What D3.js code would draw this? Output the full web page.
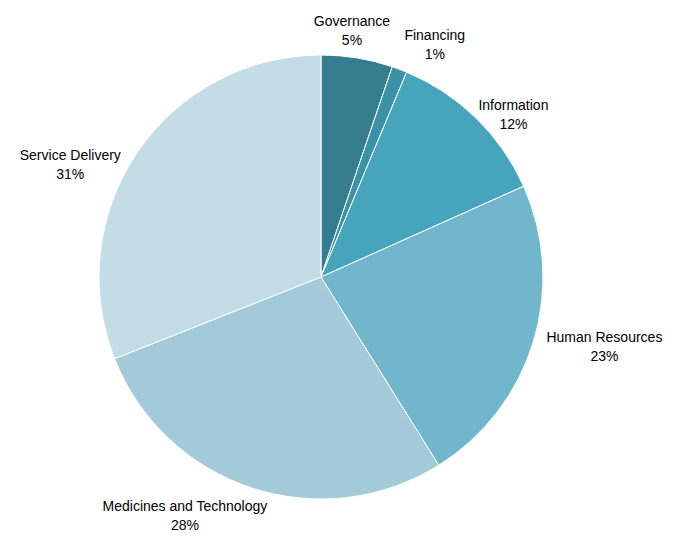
<!DOCTYPE html>
<html><head><meta charset="utf-8">
<script src="https://cdn.jsdelivr.net/npm/d3@7"></script>
<style>body{margin:0;background:#fff}svg{display:block}text{font-family:"Liberation Sans",Arial,sans-serif;font-size:14px;fill:#000}</style>
</head><body>
<script>
const categories = ["Governance","Financing","Information","Human Resources","Medicines and Technology","Service Delivery"];
const values = [5.2, 1.1, 12.0, 22.8, 27.9, 31.0];
const pctLabels = ["5%","1%","12%","23%","28%","31%"];
const colors = ["#347d8f","#3b92a6","#46a4bd","#72b6cc","#a3cad9","#c3dce5"];
const labelNudge = [[-13,1],[21,2],[6,17],[6,-4],[-38,0],[-17,28]];

const W=685,H=547,cx=321,cy=277,r=222;
const svg=d3.select("body").append("svg").attr("width",W).attr("height",H);
const g=svg.append("g").attr("transform",`translate(${cx},${cy})`);
const pie=d3.pie().sort(null).value(d=>d)(values);
const arc=d3.arc().innerRadius(0).outerRadius(r);
g.selectAll("path").data(pie).enter().append("path")
  .attr("d",arc).attr("fill",(d,i)=>colors[i]).attr("stroke","#fff").attr("stroke-width",1);

pie.forEach((d,i)=>{
  const a=(d.startAngle+d.endAngle)/2, R=r+10;
  const ex=Math.sin(a)*R, ey=-Math.cos(a)*R;
  const t=g.append("text").attr("text-anchor","middle");
  t.append("tspan").attr("x",0).attr("dy",0).text(categories[i]);
  t.append("tspan").attr("x",0).attr("dy",19).text(pctLabels[i]);
  const w=t.node().getBBox().width, h=38;
  const x=ex+Math.sin(a)*w/2+labelNudge[i][0];
  const y=ey-Math.cos(a)*h/2+labelNudge[i][1];
  t.attr("transform",`translate(${x},${y-4})`);
});
</script>
</body></html>
